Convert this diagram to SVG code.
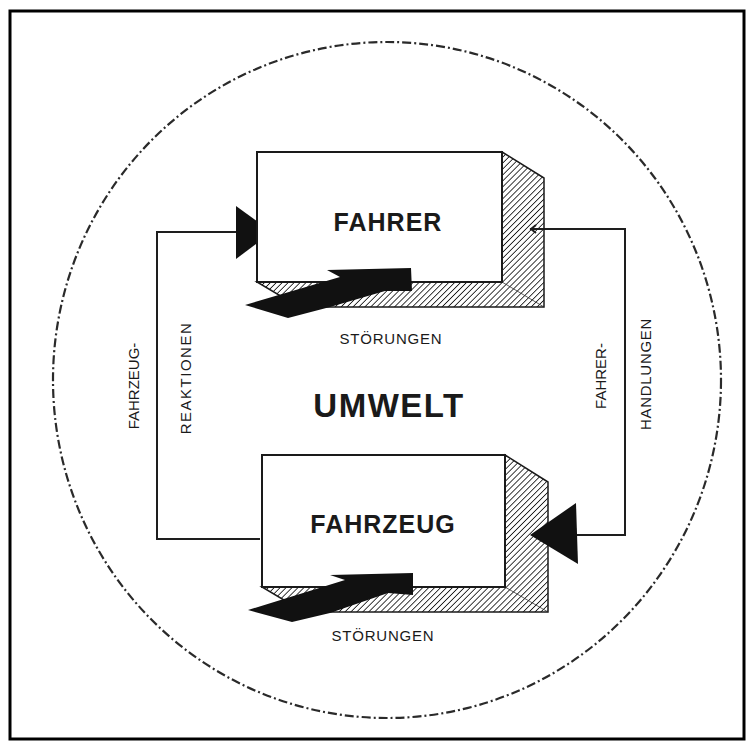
<svg xmlns="http://www.w3.org/2000/svg" width="754" height="749" viewBox="0 0 754 749">
  <defs>
    <!-- diagonal shading for the box depth faces -->
    <pattern id="hatch" patternUnits="userSpaceOnUse" width="4.2" height="4.2" patternTransform="rotate(45)">
      <line x1="0" y1="0" x2="0" y2="4.2" stroke="#1a1a1a" stroke-width="1.7"/>
    </pattern>
    <style>
      .frame { fill: none; stroke: #000; stroke-width: 3; }
      .env { fill: none; stroke: #2a2a2a; stroke-width: 2.2; stroke-dasharray: 9 3 2 3; }
      .face { fill: #fff; stroke: #1a1a1a; stroke-width: 2; }
      .depth { fill: url(#hatch); stroke: #1a1a1a; stroke-width: 1.5; stroke-linejoin: miter; }
      .edge { fill: none; stroke: #333; stroke-width: 0.8; }
      .wire { fill: none; stroke: #1e1e1e; stroke-width: 2; }
      .solid { fill: #111; stroke: none; }
      .title { font-family: "Liberation Sans", Arial, sans-serif; font-weight: bold; fill: #1a1a1a; text-anchor: middle; }
      .small { font-family: "Liberation Sans", Arial, sans-serif; font-size: 15px; fill: #1a1a1a; text-anchor: middle; }
    </style>
  </defs>

  <rect x="0" y="0" width="754" height="749" fill="#fff"/>
  <rect class="frame" x="10" y="11" width="734" height="728"/>

  <!-- environment boundary -->
  <g id="umwelt">
    <ellipse class="env" cx="387" cy="380" rx="334" ry="338"/>
    <text class="title" x="389" y="417" font-size="33" letter-spacing="1.5">UMWELT</text>
  </g>

  <!-- feedback lines and their labels -->
  <g id="connectors">
    <!-- vehicle reactions: vehicle -> driver -->
    <polyline class="wire" points="260,539 157,539 157,232 238,232"/>
    <polygon class="solid" points="236,206 272,232 236,259"/>
    <!-- driver actions: driver -> vehicle -->
    <polyline class="wire" points="530,229 625,229 625,535 575,535"/>
    <polyline class="wire" points="536,225 531,229 536,233" stroke-width="1.2"/>
    <text class="small" transform="translate(139,386) rotate(-90)">FAHRZEUG-</text>
    <text class="small" transform="translate(191,378) rotate(-90)" letter-spacing="1.5">REAKTIONEN</text>
    <text class="small" transform="translate(606,376) rotate(-90)">FAHRER-</text>
    <text class="small" transform="translate(651,374) rotate(-90)" letter-spacing="0.7">HANDLUNGEN</text>
  </g>

  <!-- driver block -->
  <g id="fahrer">
    <polygon class="depth" points="502,152 544,178 544,307 299,307 257,282 502,282"/>
    <line class="edge" x1="502" y1="282" x2="544" y2="307"/>
    <rect class="face" x="257" y="152" width="245" height="130"/>
    <text class="title" x="388" y="231" font-size="25" letter-spacing="1">FAHRER</text>
  </g>

  <!-- disturbance acting on the driver -->
  <g id="stoerungen-fahrer">
    <polygon class="solid" points="245,305 340,277 327,270 411,268 412,291 385,291 330,307 288,318"/>
    <text class="small" x="391" y="344" letter-spacing="0.8">STÖRUNGEN</text>
  </g>

  <!-- vehicle block -->
  <g id="fahrzeug">
    <polygon class="depth" points="505,455 548,482 548,612 304,612 262,587 505,587"/>
    <line class="edge" x1="505" y1="587" x2="548" y2="612"/>
    <rect class="face" x="262" y="455" width="243" height="132"/>
    <text class="title" x="383" y="533" font-size="25" letter-spacing="1">FAHRZEUG</text>
    <polygon class="solid" points="530,535 576,503 578,564"/>
  </g>

  <!-- disturbance acting on the vehicle -->
  <g id="stoerungen-fahrzeug">
    <polygon class="solid" points="248,610 345,580 330,575 413,573 413,595 388,593 330,613 292,622"/>
    <text class="small" x="383" y="641" letter-spacing="0.8">STÖRUNGEN</text>
  </g>
</svg>
